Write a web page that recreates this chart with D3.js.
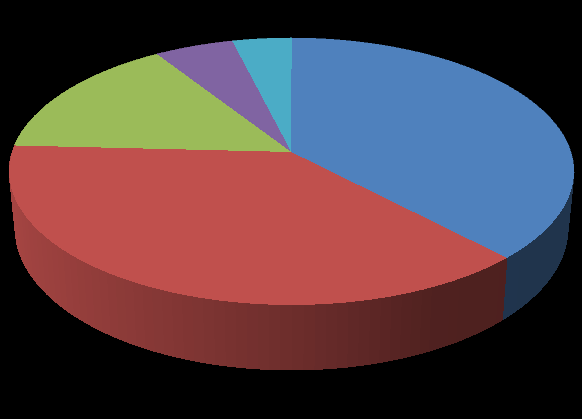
<!DOCTYPE html>
<html><head><meta charset="utf-8">
<script src="https://cdn.jsdelivr.net/npm/d3@7"></script>
<style>html,body{margin:0;padding:0;background:#000;overflow:hidden}svg{display:block}</style>
</head><body><div id="chart"></div>
<script>
const categories = ["A","B","C","D","E"];
const values = [37.9, 37.9, 15.1, 5.2, 3.9];
const colors = ["#4F81BD","#C0504D","#9BBB59","#8064A2","#4BACC6"];

const W = 582, H = 419;
const svg = d3.select("#chart").append("svg").attr("width",W).attr("height",H)
  .style("background","#000");

const color = d3.scaleOrdinal().domain(categories).range(colors);
const pie = d3.pie().sort(null).value((d,i)=>values[i]);
const arcs = pie(categories);

const view = {cx:291.6, persp:-0.146, top:{r:279.4, a:108.45, b:152}, bottom:{r:273.5, a:108.45, b:207.5}};
function project(theta, plane){
  const u = Math.sin(theta), v = -Math.cos(theta), w = 1 + view.persp*v;
  return [view.cx + plane.r*u/w, (plane.a*v + plane.b)/w];
}
const shade = d3.scaleLinear().domain([-1,0,0.45,1]).range([0.87,0.57,0.41,0.40]).clamp(true);
const darken = (c,k)=>{const o=d3.rgb(c);return d3.rgb(o.r*k,o.g*k,o.b*k).formatHex();};
const line = d3.line();
const STEP = Math.PI/90;

const strips = [];
arcs.forEach(a=>{
  const n = Math.max(1,Math.ceil((a.endAngle-a.startAngle)/STEP));
  d3.range(n).forEach(i=>{
    const t0=a.startAngle+(a.endAngle-a.startAngle)*i/n, t1=a.startAngle+(a.endAngle-a.startAngle)*(i+1)/n;
    strips.push({cat:a.data,t0,t1});
  });
});
strips.sort((p,q)=>(-Math.cos((p.t0+p.t1)/2))-(-Math.cos((q.t0+q.t1)/2)));
svg.append("g").attr("shape-rendering","crispEdges").selectAll("path").data(strips).join("path")
  .attr("d",s=>line([project(s.t0,view.top),project(s.t1,view.top),project(s.t1,view.bottom),project(s.t0,view.bottom)])+"Z")
  .attr("fill",s=>darken(color(s.cat),shade(Math.sin((s.t0+s.t1)/2))))
  .attr("stroke",s=>darken(color(s.cat),shade(Math.sin((s.t0+s.t1)/2))))
  .attr("stroke-width",1);

const apex = [view.cx-0.3, view.top.b];
svg.append("g").attr("shape-rendering","crispEdges").selectAll("path").data(arcs).join("path")
  .attr("d",a=>{
    const n=Math.ceil((a.endAngle-a.startAngle)/(STEP/2));
    const pts=[apex].concat(d3.range(n+1).map(i=>project(a.startAngle+(a.endAngle-a.startAngle)*i/n,view.top)));
    return line(pts)+"Z";
  })
  .attr("fill",a=>color(a.data));
</script></body></html>
